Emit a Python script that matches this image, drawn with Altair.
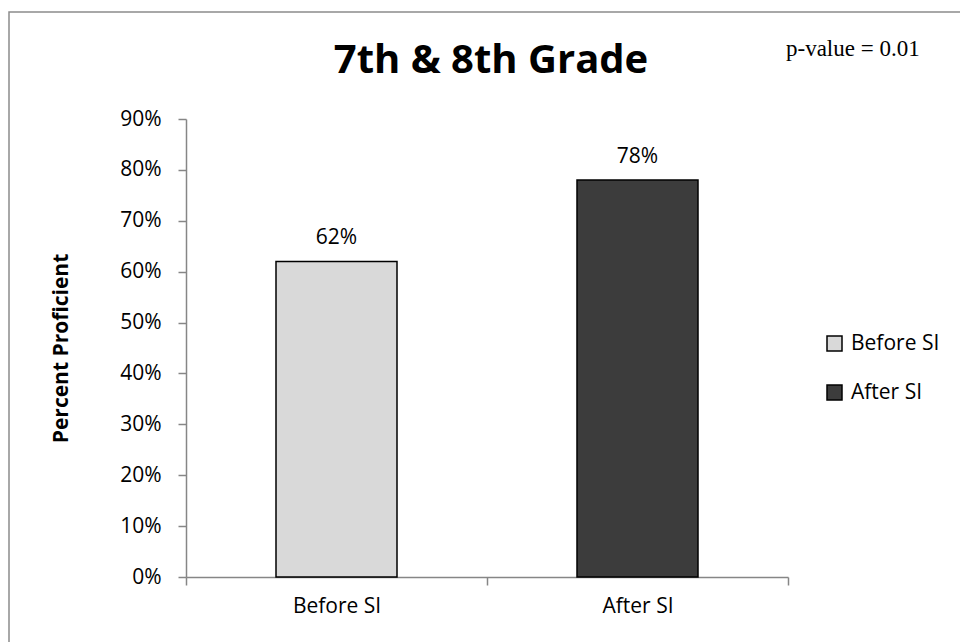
import altair as alt
import pandas as pd

# Proficiency before and after supplemental instruction
groups = ["Before SI", "After SI"]
proficiency = [0.62, 0.78]
value_labels = ["62%", "78%"]
bar_colors = ["#d9d9d9", "#3c3c3c"]
y_ticks = [0, 0.1, 0.2, 0.3, 0.4, 0.5, 0.6, 0.7, 0.8, 0.9]

chart_title = "7th & 8th Grade"
p_value_note = "p-value = 0.01"

FONT = "Open Sans"
AXIS_GRAY = "#868686"
LABEL_SIZE = 21

df = pd.DataFrame({"group": groups, "value": proficiency, "label": value_labels})

x_enc = alt.X(
    "group:N",
    sort=groups,
    scale=alt.Scale(paddingInner=0, paddingOuter=0),
    axis=alt.Axis(
        title=None,
        labelAngle=0,
        labelFont=FONT,
        labelFontSize=LABEL_SIZE,
        labelColor="black",
        labelPadding=10,
        tickBand="extent",
        tickSize=8,
        tickColor=AXIS_GRAY,
        domainColor=AXIS_GRAY,
        domainWidth=1.5,
        tickWidth=1.5,
    ),
)
y_enc = alt.Y(
    "value:Q",
    scale=alt.Scale(domain=[0, 0.9], nice=False),
    axis=alt.Axis(
        title="Percent Proficient",
        titleFont=FONT,
        titleFontSize=21,
        titleFontWeight="bold",
        titleColor="black",
        titlePadding=48,
        format=".0%",
        values=y_ticks,
        labelFont=FONT,
        labelFontSize=LABEL_SIZE,
        labelColor="black",
        labelPadding=17,
        tickSize=8,
        tickColor=AXIS_GRAY,
        domainColor=AXIS_GRAY,
        domainWidth=1.5,
        tickWidth=1.5,
        grid=False,
    ),
)

base = alt.Chart(df)

bars = base.mark_bar(size=121, stroke="black", strokeWidth=1.5).encode(
    x=x_enc,
    y=y_enc,
    color=alt.Color(
        "group:N",
        sort=groups,
        scale=alt.Scale(domain=groups, range=bar_colors),
        legend=alt.Legend(
            title=None,
            orient="none",
            legendX=638,
            legendY=214,
            symbolType="square",
            symbolSize=225,
            symbolStrokeColor="black",
            symbolStrokeWidth=1.5,
            labelFont=FONT,
            labelFontSize=LABEL_SIZE,
            labelColor="black",
            labelOffset=6,
            rowPadding=27,
        ),
    ),
)

value_text = base.mark_text(
    font=FONT, fontSize=LABEL_SIZE, color="black", baseline="bottom", dy=-13
).encode(x=alt.X("group:N", sort=groups), y="value:Q", text="label:N")

title_text = alt.Chart(pd.DataFrame({"t": [chart_title]})).mark_text(
    font=FONT, fontSize=40, fontWeight="bold", color="black",
    align="center", baseline="alphabetic",
).encode(text="t:N", x=alt.value(305), y=alt.value(-46))

p_text = alt.Chart(pd.DataFrame({"t": [p_value_note]})).mark_text(
    font="Liberation Serif", fontSize=23, color="black",
    align="left", baseline="alphabetic",
).encode(text="t:N", x=alt.value(600), y=alt.value(-63))

frame = alt.Chart(pd.DataFrame({"k": [0]})).mark_rect(
    fill=None, fillOpacity=0, stroke="#8c8c8c", strokeWidth=1.5
).encode(x=alt.value(-177), x2=alt.value(800), y=alt.value(-107), y2=alt.value(560))

chart = (
    alt.layer(frame, bars, value_text, title_text, p_text)
    .properties(
        width=602,
        height=458,
        autosize=alt.AutoSizeParams(type="none"),
        padding={"left": 186, "top": 119, "right": 172, "bottom": 65},
        background="white",
    )
    .configure_view(stroke=None)
)

chart.save("out.html", embed_options={"renderer": "svg", "actions": False})
